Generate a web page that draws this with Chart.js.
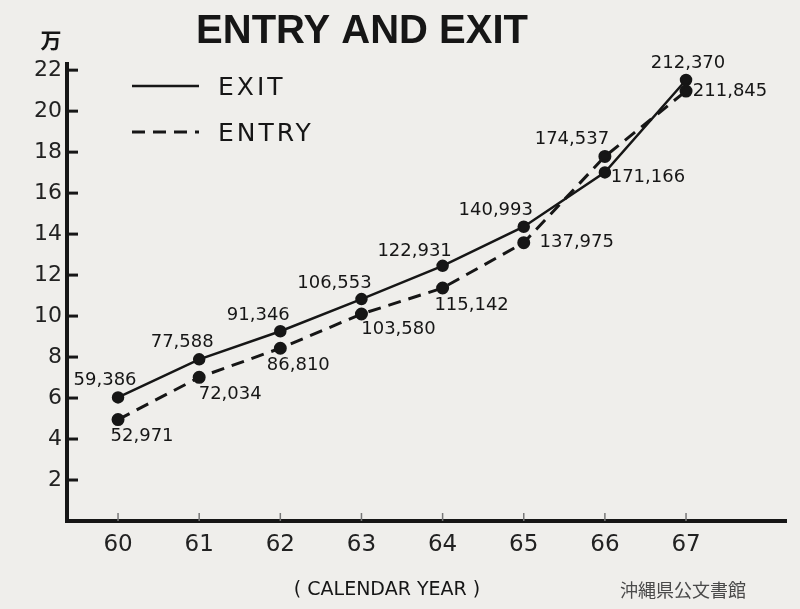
<!DOCTYPE html>
<html lang="en">
<head>
    <meta charset="UTF-8">
    <title>Entry and Exit</title>
    <script src="https://cdn.jsdelivr.net/npm/chart.js"></script>
    <style>
        body {
            margin: 0;
            background: #efeeeb;
        }
        #wrap {
            width: 800px;
            height: 609px;
        }
    </style>
</head>
<body>
    <div id="wrap"><canvas id="chart"></canvas></div>

    <script>
        // calendar years (19xx)
        const years = [60, 61, 62, 63, 64, 65, 66, 67];
        // plotted heights in 万 (10,000 people), as drawn on the sheet
        const exitValues = [6.03, 7.89, 9.26, 10.83, 12.45, 14.36, 17.01, 21.52];
        const entryValues = [4.95, 7.01, 8.43, 10.10, 11.37, 13.58, 17.79, 20.98];
        // head counts printed beside each point
        const exitCounts = [59386, 77588, 91346, 106553, 122931, 140993, 171166, 212370];
        const entryCounts = [52971, 72034, 86810, 103580, 115142, 137975, 174537, 211845];
        const yTicks = [2, 4, 6, 8, 10, 12, 14, 16, 18, 20, 22];

        // where each number sits relative to its point (px)
        const exitLabelOffsets = [[-13, -17], [-17, -17], [-22, -16], [-27, -16], [-28, -15], [-28, -16], [43, 5], [2, -17]];
        const entryLabelOffsets = [[24, 17], [31, 17], [18, 17], [37, 15], [29, 17], [53, 0], [-33, -17], [44, 0]];

        const INK = '#161616';
        const toPoints = vals => vals.map((v, i) => ({ x: years[i], y: v }));

        const decorations = {
            id: 'decorations',
            afterDraw(chart) {
                const ctx = chart.ctx;
                const xs = chart.scales.x;
                const ys = chart.scales.y;
                const area = chart.chartArea;
                ctx.save();

                // inward tick marks
                ctx.strokeStyle = INK;
                ctx.lineWidth = 3;
                yTicks.forEach(v => {
                    const y = ys.getPixelForValue(v);
                    ctx.beginPath();
                    ctx.moveTo(area.left, y);
                    ctx.lineTo(area.left + 11, y);
                    ctx.stroke();
                });
                ctx.strokeStyle = '#777';
                ctx.lineWidth = 1.5;
                years.forEach(v => {
                    const x = xs.getPixelForValue(v);
                    ctx.beginPath();
                    ctx.moveTo(x, area.bottom);
                    ctx.lineTo(x, area.bottom - 8);
                    ctx.stroke();
                });

                // point value labels
                ctx.fillStyle = INK;
                ctx.font = '18px "DejaVu Sans"';
                ctx.textAlign = 'center';
                ctx.textBaseline = 'middle';
                [exitLabelOffsets, entryLabelOffsets].forEach((offsets, di) => {
                    const meta = chart.getDatasetMeta(di);
                    const counts = di === 0 ? exitCounts : entryCounts;
                    meta.data.forEach((pt, i) => {
                        ctx.fillText(counts[i].toLocaleString('en-US'), pt.x + offsets[i][0], pt.y + offsets[i][1]);
                    });
                });

                // legend
                chart.data.datasets.forEach((ds, i) => {
                    const y = 86 + i * 46;
                    ctx.strokeStyle = INK;
                    ctx.lineWidth = ds.borderWidth;
                    ctx.setLineDash(ds.borderDash || []);
                    ctx.beginPath();
                    ctx.moveTo(132, y);
                    ctx.lineTo(199, y);
                    ctx.stroke();
                    ctx.setLineDash([]);
                    ctx.font = '25px "DejaVu Sans"';
                    ctx.letterSpacing = '3px';
                    ctx.textAlign = 'left';
                    ctx.fillText(ds.label, 218, y + 2);
                    ctx.letterSpacing = '0px';
                });

                // title, unit, axis caption, archive stamp
                ctx.textAlign = 'center';
                ctx.font = 'bold 40px "Liberation Sans"';
                ctx.fillText('ENTRY AND EXIT', 362, 32);
                ctx.font = 'bold 21px "Noto Sans CJK JP"';
                ctx.fillText('万', 51, 40);
                ctx.font = '19px "DejaVu Sans"';
                ctx.fillText('( CALENDAR YEAR )', 387, 590);
                ctx.fillStyle = '#4a4a4a';
                ctx.font = '18px "Noto Sans CJK JP"';
                ctx.fillText('沖縄県公文書館', 683, 590);

                ctx.restore();
            }
        };

        new Chart(document.getElementById('chart'), {
            type: 'line',
            data: {
                datasets: [{
                    label: 'EXIT',
                    data: toPoints(exitValues),
                    borderColor: INK,
                    backgroundColor: INK,
                    borderWidth: 2.5,
                    pointRadius: 5,
                    pointBackgroundColor: INK,
                    tension: 0
                }, {
                    label: 'ENTRY',
                    data: toPoints(entryValues),
                    borderColor: INK,
                    backgroundColor: INK,
                    borderWidth: 3,
                    borderDash: [13, 8],
                    pointRadius: 5,
                    pointBackgroundColor: INK,
                    tension: 0
                }]
            },
            options: {
                responsive: true,
                maintainAspectRatio: false,
                animation: false,
                layout: { padding: { top: 64, right: 14, left: 0, bottom: 0 } },
                plugins: {
                    legend: { display: false },
                    tooltip: { enabled: false }
                },
                scales: {
                    x: {
                        type: 'linear',
                        min: 59.371,
                        max: 68.232,
                        afterBuildTicks: s => { s.ticks = years.map(v => ({ value: v })); },
                        afterFit: s => { s.height = 88; },
                        grid: { display: false, drawTicks: false },
                        border: { display: true, width: 4, color: INK },
                        ticks: {
                            color: '#222',
                            padding: 10,
                            font: { family: 'DejaVu Sans', size: 23 },
                            callback: v => String(v)
                        }
                    },
                    y: {
                        min: 0,
                        max: 22.3,
                        afterBuildTicks: s => { s.ticks = yTicks.map(v => ({ value: v })); },
                        afterFit: s => { s.width = 67; },
                        grid: { display: false, drawTicks: false },
                        border: { display: true, width: 4, color: INK },
                        ticks: {
                            color: '#222',
                            padding: 5,
                            font: { family: 'DejaVu Sans', size: 22 },
                            callback: v => String(v)
                        }
                    }
                }
            },
            plugins: [decorations]
        });
    </script>
</body>
</html>
